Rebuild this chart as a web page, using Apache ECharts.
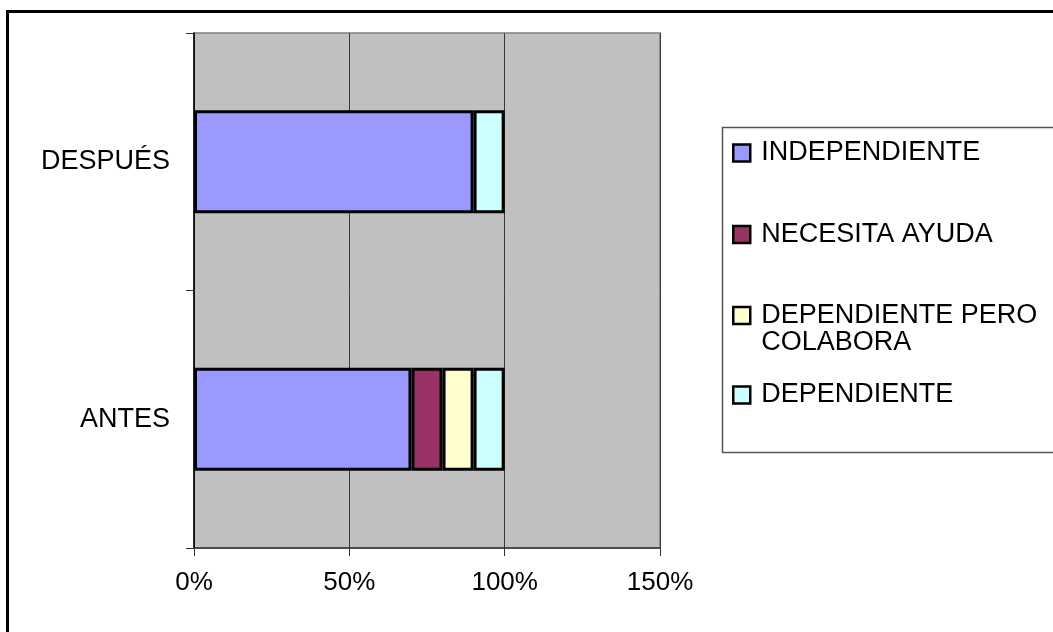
<!DOCTYPE html>
<html>
<head>
<meta charset="utf-8">
<script src="https://cdn.jsdelivr.net/npm/echarts@6/dist/echarts.min.js"></script>
<style>
  html, body { margin: 0; padding: 0; background: #fff; }
  #chart { width: 1053px; height: 632px; }
</style>
</head>
<body>
<div id="chart"></div>
<script>
// Stages compared (bottom to top on the category axis)
const categories = ['ANTES', 'DESPUÉS'];

// Share of patients per dependency level, in percent
const independiente = [70, 90];
const necesitaAyuda = [10, 0];
const dependientePeroColabora = [10, 0];
const dependiente = [10, 10];

// Value axis ticks
const xTicks = [0, 50, 100, 150];

const FONT = '"Liberation Sans", Arial, sans-serif';

const seriesDefs = [
  { name: 'INDEPENDIENTE', data: independiente, color: '#9999FF' },
  { name: 'NECESITA AYUDA', data: necesitaAyuda, color: '#993366' },
  { name: 'DEPENDIENTE PERO COLABORA', data: dependientePeroColabora, color: '#FFFFCC' },
  { name: 'DEPENDIENTE', data: dependiente, color: '#CCFFFF' }
];

const chart = echarts.init(document.getElementById('chart'), null, { renderer: 'canvas' });

// One legend block per entry so each marker sits at its own row.
// The long entry wraps; a leading blank line keeps its marker on the first text line.
const legendRows = [
  { name: 'INDEPENDIENTE', top: 139.5 },
  { name: 'NECESITA AYUDA', top: 221 },
  { name: 'DEPENDIENTE PERO COLABORA', top: 275, label: '\nDEPENDIENTE PERO\nCOLABORA' },
  { name: 'DEPENDIENTE', top: 381.5 }
];

const legends = legendRows.map(r => ({
  data: [r.name],
  left: 732,
  top: r.top,
  padding: 0,
  orient: 'vertical',
  selectedMode: false,
  icon: 'rect',
  itemWidth: 17,
  itemHeight: 17,
  itemStyle: { borderColor: '#000', borderWidth: 2.5 },
  formatter: r.label ? r.label : '{name}',
  textStyle: {
    fontFamily: FONT,
    fontSize: 27,
    color: '#000',
    lineHeight: 27,
    padding: [0, 0, 0, 6]
  }
}));

chart.setOption({
  animation: false,
  backgroundColor: '#ffffff',
  graphic: [
    // outer chart frame
    {
      type: 'rect', silent: true, z: -10,
      shape: { x: 7.5, y: 11.5, width: 1100, height: 700 },
      style: { fill: 'none', stroke: '#000', lineWidth: 3 }
    },
    // legend frame
    {
      type: 'rect', silent: true, z: -10,
      shape: { x: 722.5, y: 127.5, width: 400, height: 325 },
      style: { fill: '#fff', stroke: '#555', lineWidth: 1.5 }
    }
  ],
  legend: legends,
  grid: {
    left: 194, right: 393, top: 33, bottom: 84,
    show: true,
    backgroundColor: '#C0C0C0',
    borderColor: '#808080',
    borderWidth: 1.5
  },
  xAxis: {
    type: 'value',
    min: xTicks[0],
    max: xTicks[xTicks.length - 1],
    interval: 50,
    axisLine: { show: true, lineStyle: { color: '#333', width: 1.5 } },
    axisTick: { show: true, length: 8, lineStyle: { color: '#333', width: 1 } },
    splitLine: { show: true, lineStyle: { color: '#3a3a3a', width: 1 } },
    axisLabel: {
      margin: 22,
      fontFamily: FONT,
      fontSize: 26,
      color: '#000',
      formatter: v => v + '%'
    }
  },
  yAxis: {
    type: 'category',
    data: categories,
    axisLine: { show: true, lineStyle: { color: '#000', width: 1.5 } },
    axisTick: { show: true, length: 8, lineStyle: { color: '#333', width: 1 } },
    axisLabel: {
      margin: 24,
      fontFamily: FONT,
      fontSize: 27,
      color: '#000'
    }
  },
  series: seriesDefs.map(s => ({
    name: s.name,
    type: 'bar',
    stack: 'total',
    // empty segments are skipped so they leave no outline behind
    data: s.data.map(v => (v === 0 ? '-' : v)),
    barCategoryGap: '60%',
    itemStyle: { color: s.color, borderColor: '#000', borderWidth: 3 },
    emphasis: { disabled: true }
  }))
});
</script>
</body>
</html>
